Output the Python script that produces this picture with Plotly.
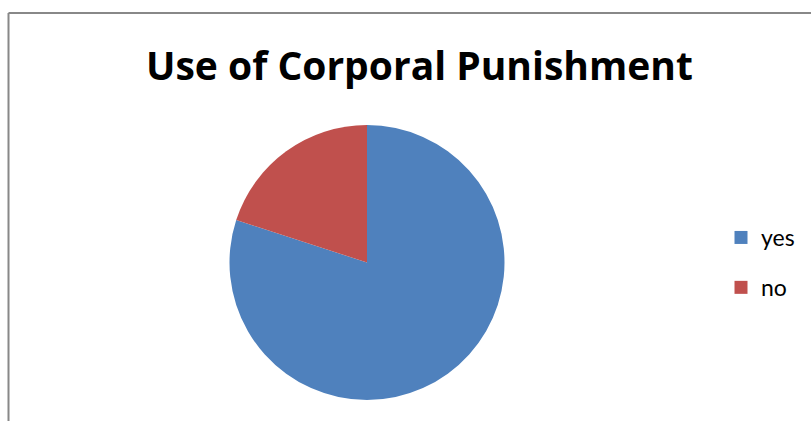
import plotly.graph_objects as go

title_text = "Use of Corporal Punishment"
labels = ["yes", "no"]
values = [80, 20]
colors = ["#4F81BD", "#C0504D"]

W, H = 811, 421

fig = go.Figure()

fig.add_trace(go.Pie(
    labels=labels,
    values=values,
    marker=dict(colors=colors, line=dict(width=0)),
    sort=False,
    direction="clockwise",
    rotation=0,
    textinfo="none",
    hoverinfo="label+percent",
    showlegend=False,
    domain=dict(x=[229.5 / W, 504.5 / W], y=[1 - 400 / H, 1 - 125 / H]),
))

# legend entries (one per category, separate groups for the wide spacing)
for lab, col in zip(labels, colors):
    fig.add_trace(go.Scatter(
        x=[None], y=[None], mode="markers", name=lab, legendgroup=lab,
        marker=dict(symbol="square", size=13, color=col),
        hoverinfo="skip",
    ))

fig.update_layout(
    width=W, height=H,
    margin=dict(l=0, r=0, t=0, b=0),
    paper_bgcolor="white",
    plot_bgcolor="white",
    xaxis=dict(visible=False),
    yaxis=dict(visible=False),
    showlegend=True,
    legend=dict(
        x=721 / W, xanchor="left",
        y=1 - 216 / H, yanchor="top",
        traceorder="grouped",
        tracegroupgap=17,
        font=dict(family="Lato", size=23, color="#000000"),
        bgcolor="rgba(0,0,0,0)",
        itemwidth=30,
    ),
    annotations=[dict(
        text="<b>" + title_text + "</b>",
        x=419 / W, xref="paper", xanchor="center",
        y=1 - 65 / H, yref="paper", yanchor="middle",
        showarrow=False,
        font=dict(family="Open Sans", size=39, color="#000000"),
    )],
    shapes=[
        dict(type="line", xref="paper", yref="paper",
             x0=8.5 / W, x1=1.05, y0=1 - 13 / H, y1=1 - 13 / H,
             line=dict(color="#888888", width=2)),
        dict(type="line", xref="paper", yref="paper",
             x0=8.5 / W, x1=8.5 / W, y0=-0.05, y1=1 - 13 / H,
             line=dict(color="#888888", width=2)),
    ],
)

fig.write_html("out.html", config={"displayModeBar": False},
               post_script="document.body.style.margin='0';")
